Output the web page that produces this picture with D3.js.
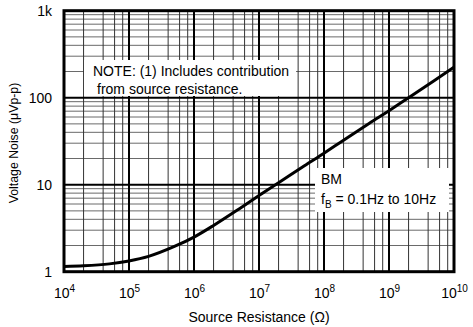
<!DOCTYPE html>
<html><head><meta charset="utf-8">
<script src="https://cdn.jsdelivr.net/npm/d3@7"></script>
<style>
html,body{margin:0;padding:0;background:#fff;}
svg{display:block;font-family:"Liberation Sans",Arial,Helvetica,sans-serif;}
</style></head>
<body>
<svg id="c" width="473" height="327"></svg>
<script>
// ---- data ----
const resistance = [1e4, 2e4, 5e4, 1e5, 2e5, 5e5, 1e6, 2e6, 5e6, 1e7, 2e7, 5e7, 1e8, 2e8, 5e8, 1e9, 2e9, 5e9, 1e10];
const noise      = [1.15, 1.17, 1.23, 1.33, 1.5, 1.95, 2.5, 3.4, 5.3, 7.5, 10.5, 16.5, 23, 32.5, 51, 71, 100, 158, 225];
const xTickExps   = [4, 5, 6, 7, 8, 9, 10];
const yTickValues = [1, 10, 100, 1000];
const yTickLabels = ["1", "10", "100", "1k"];
const xMinorMult  = [2, 4, 6, 8];
const yMinorMult  = [2, 3, 4, 5, 6, 7, 8, 9];
const noteLines   = ["NOTE: (1) Includes contribution", "from source resistance."];
const xTitle = "Source Resistance (\u03A9)";
const yTitle = "Voltage Noise (\u03BCVp-p)";

const svg = d3.select("#c");
const L = 64, R = 454, T = 10.7, B = 271.7;
const x = d3.scaleLog().domain([1e4, 1e10]).range([L, R]);
const y = d3.scaleLog().domain([1, 1000]).range([B, T]);

const g = svg.append("g");
// minor grid
const xDecades = xTickExps.slice(0, -1).map(e => Math.pow(10, e));
const yDecades = yTickValues.slice(0, -1);
const xMinor = [], yMinor = [];
xDecades.forEach(d => xMinorMult.forEach(m => xMinor.push(d * m)));
yDecades.forEach(d => yMinorMult.forEach(m => yMinor.push(d * m)));

g.selectAll(".hm").data(yMinor).join("line")
  .attr("x1", L).attr("x2", R).attr("y1", d => y(d)).attr("y2", d => y(d))
  .attr("stroke", "#6a6a6a").attr("stroke-width", 1);
g.selectAll(".vm").data(xMinor).join("line")
  .attr("y1", T).attr("y2", B).attr("x1", d => x(d)).attr("x2", d => x(d))
  .attr("stroke", "#333").attr("stroke-width", 1);
// decade lines
g.selectAll(".hd").data(yTickValues.slice(1, -1)).join("line")
  .attr("x1", L).attr("x2", R).attr("y1", d => y(d)).attr("y2", d => y(d))
  .attr("stroke", "#000").attr("stroke-width", 2);
g.selectAll(".vd").data(xTickExps.slice(1, -1).map(e => Math.pow(10, e))).join("line")
  .attr("y1", T).attr("y2", B).attr("x1", d => x(d)).attr("x2", d => x(d))
  .attr("stroke", "#000").attr("stroke-width", 2);

// annotation boxes (white)
svg.append("rect").attr("x", 84).attr("y", 60).attr("width", 212).attr("height", 36).attr("fill", "#fff");
svg.append("rect").attr("x", 315).attr("y", 168).attr("width", 134).attr("height", 44).attr("fill", "#fff");

// curve
const line = d3.line().x((d, i) => x(resistance[i])).y((d, i) => y(noise[i])).curve(d3.curveMonotoneX);
svg.append("path").datum(noise).attr("d", line).attr("fill", "none")
  .attr("stroke", "#000").attr("stroke-width", 3).attr("stroke-linejoin", "round");

// frame
svg.append("rect").attr("x", L).attr("y", T).attr("width", R - L).attr("height", B - T)
  .attr("fill", "none").attr("stroke", "#000").attr("stroke-width", 3);

// y axis
const ya = svg.append("g").attr("transform", `translate(${L - 12},0)`)
  .call(d3.axisLeft(y).tickValues(yTickValues).tickFormat((d, i) => yTickLabels[i]).tickSize(0).tickPadding(0));
ya.select(".domain").remove();
ya.selectAll("text").attr("font-size", 14).attr("font-family", "Liberation Sans, Arial, sans-serif").attr("fill", "#000");

// x axis
const xa = svg.append("g").attr("transform", `translate(0,${B + 10})`)
  .call(d3.axisBottom(x).tickValues(xTickExps.map(e => Math.pow(10, e))).tickFormat("").tickSize(0));
xa.select(".domain").remove();
xa.selectAll(".tick").each(function(d, i) {
  const t = d3.select(this).append("text").attr("y", 16).attr("fill", "#000")
    .attr("font-size", 14).attr("text-anchor", "middle").attr("font-family", "Liberation Sans, Arial, sans-serif");
  t.append("tspan").text("10");
  t.append("tspan").attr("dy", -6).attr("font-size", 10).text(xTickExps[i]);
});

// titles
svg.append("text").attr("x", (L + R) / 2).attr("y", 322).attr("text-anchor", "middle")
  .attr("font-size", 14).text(xTitle);
svg.append("text").attr("transform", "translate(18,143) rotate(-90)").attr("text-anchor", "middle")
  .attr("font-size", 12.3).text(yTitle);

// note text
svg.append("text").attr("x", 93).attr("y", 75.5).attr("font-size", 14).text(noteLines[0]);
svg.append("text").attr("x", 97).attr("y", 93.5).attr("font-size", 14).text(noteLines[1]);

// BM text
svg.append("text").attr("x", 321).attr("y", 184).attr("font-size", 14).text("BM");
const fb = svg.append("text").attr("x", 321).attr("y", 204).attr("font-size", 14);
fb.append("tspan").text("f");
fb.append("tspan").attr("dy", 4).attr("font-size", 10).text("B");
fb.append("tspan").attr("dy", -4).text(" = 0.1Hz to 10Hz");
</script>
</body></html>
